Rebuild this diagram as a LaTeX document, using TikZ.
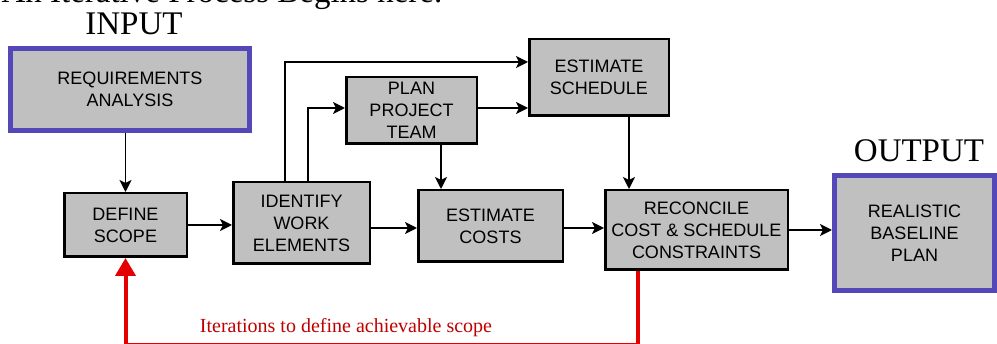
\documentclass[tikz,border=0pt]{standalone}
\usepackage{fontspec}
\setmainfont{Liberation Serif}
\newfontfamily\boxfont{Liberation Sans}
\usetikzlibrary{arrows.meta}
\definecolor{boxgray}{RGB}{192,192,192}
\definecolor{ioblue}{RGB}{84,72,184}
\definecolor{iterred}{RGB}{228,0,0}
\definecolor{itertext}{RGB}{190,0,0}
\tikzset{
  procbox/.style={draw=black,fill=boxgray,line width=2.5pt,inner sep=0pt,
    align=center,font=\boxfont\fontsize{18}{22}\selectfont},
  iobox/.style={procbox,draw=ioblue,line width=5pt},
  flow/.style={->,line width=1.6pt},
  iter/.style={-{Triangle[length=18pt,width=20pt]},draw=iterred,line width=4pt},
  title/.style={font=\fontsize{33}{36}\selectfont}
}
\begin{document}
\begin{tikzpicture}[>={Stealth[length=12pt,width=12pt,inset=3pt]},x=1pt,y=-1pt,line join=miter]
  \useasboundingbox (0,0) rectangle (997,344);
%%
  % Titles
  \node[title,anchor=base west] (head) at (-2,3) {An Iterative Process Begins here.};
  \node[title] (input) at (134,24) {INPUT};
  \node[title] (output) at (919,151) {OUTPUT};
  % Node: req
  \node[iobox,minimum width=239,minimum height=82] (req) at (130,89.5) {REQUIREMENTS\\ANALYSIS};
  % Node: scope
  \node[procbox,minimum width=122.5,minimum height=63.5] (scope) at (125.5,225) {DEFINE\\SCOPE};
  % Node: work
  \node[procbox,minimum width=136.5,minimum height=81.5] (work) at (301.5,223) {IDENTIFY\\WORK\\ELEMENTS};
  % Node: team
  \node[procbox,minimum width=130.5,minimum height=66.5] (team) at (411.5,110.5) {PLAN\\PROJECT\\TEAM};
  % Node: sched
  \node[procbox,minimum width=139.5,minimum height=76.5] (sched) at (599,77.5) {ESTIMATE\\SCHEDULE};
  % Node: costs
  \node[procbox,minimum width=144.5,minimum height=71.5] (costs) at (490.5,226) {ESTIMATE\\COSTS};
  % Node: rec
  \node[procbox,minimum width=182.5,minimum height=79.5] (rec) at (696.5,230) {RECONCILE\\COST \& SCHEDULE\\CONSTRAINTS};
  % Node: real
  \node[iobox,minimum width=160,minimum height=115] (real) at (914.5,233) {REALISTIC\\BASELINE\\PLAN};
%%
  % Edge: req -> scope
  \draw[flow] (scope.north |- req.south) -- (scope.north);
  % Edge: scope -> work
  \draw[flow] (scope.east) -- (scope.east -| work.west);
  % Edge: work -> sched
  \draw[flow,line width=1.2pt] (work.north -| 285,0) |- (sched.west |- 0,62);
  % Edge: work -> team
  \draw[flow,line width=2.2pt] (work.north -| 308,0) |- (team.west |- 0,108);
  % Edge: team -> sched
  \draw[flow] (team.east |- 0,108) -- (sched.west |- 0,108);
  % Edge: team -> costs
  \draw[flow] (team.south -| 441,0) -- (costs.north -| 441,0);
  % Edge: work -> costs
  \draw[flow] (work.east |- 0,228) -- (costs.west |- 0,228);
  % Edge: costs -> rec
  \draw[flow] (costs.east |- 0,228) -- (rec.west |- 0,228);
  % Edge: sched -> rec
  \draw[flow] (sched.south -| 629,0) -- (rec.north -| 629,0);
  % Edge: rec -> real
  \draw[flow,line width=2.2pt] (rec.east) -- (rec.east -| real.west);
  % Edge: rec -> scope (iterations)
  \coordinate (loopbot) at (380,345);
  \draw[iter] (rec.south -| 638,0) |- (loopbot) -| (scope.south);
  \node[font=\fontsize{20}{22}\selectfont,text=itertext] (iterlabel) at (346,328) {Iterations to define achievable scope};
%
\end{tikzpicture}
\end{document}
